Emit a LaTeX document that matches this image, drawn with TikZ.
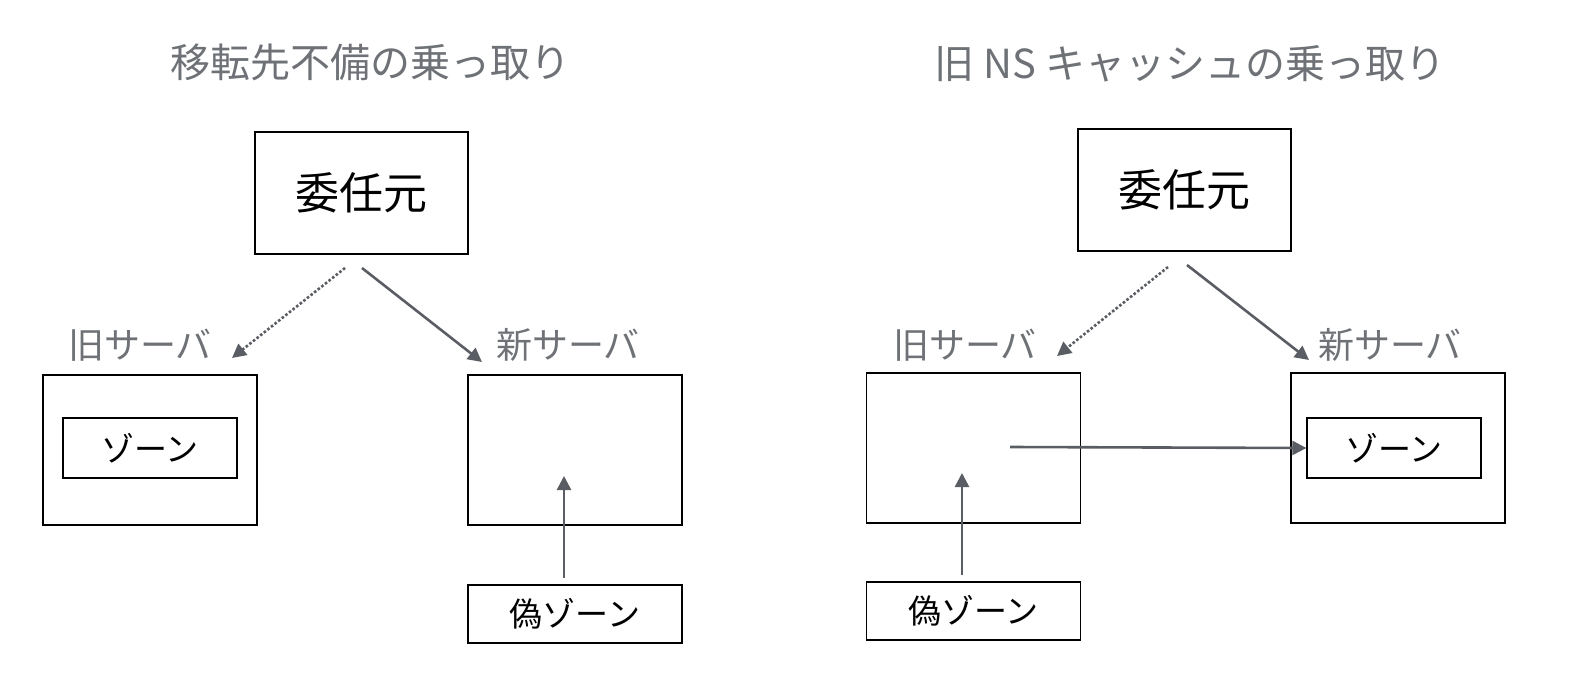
\documentclass[tikz,border=0pt]{standalone}
\usepackage{fontspec}
\setmainfont{Noto Sans CJK JP}
\usetikzlibrary{arrows.meta}
\definecolor{gr}{HTML}{5A5D63}
\definecolor{lg}{HTML}{6E7176}
\tikzset{
 bx/.style={draw=black,line width=1.3pt,minimum width=214pt,minimum height=150pt,inner sep=0},
 top/.style={draw=black,line width=1.3pt,minimum width=213pt,minimum height=122pt,font=\fontsize{44}{50}\selectfont},
 zn/.style={draw=black,line width=1.3pt,minimum width=174pt,minimum height=60pt,font=\fontsize{33}{38}\selectfont},
 fz/.style={draw=black,line width=1.3pt,minimum width=214pt,minimum height=58pt,font=\fontsize{33}{38}\selectfont},
 lbl/.style={text=lg,font=\fontsize{36}{40}\selectfont},
 ttl/.style={text=lg,font=\fontsize{40}{46}\selectfont},
 ar/.style={draw=gr,line width=2.6pt,-{Triangle[length=14pt,width=14pt]}},
 da/.style={ar,dotted},
}
\begin{document}
\begin{tikzpicture}[x=1pt,y=-1pt]
\useasboundingbox (0,0) rectangle (1594,698);
% left
\node[ttl] (t1) at (370,62) {移転先不備の乗っ取り};
\node[top] (d1) at (361.5,193) {委任元};
\node[lbl] (o1l) at (140,345) {旧サーバ};
\node[bx] (o1) at (150,450) {};
\node[zn] (z1) at (150,448) {ゾーン};
\node[lbl] (n1l) at (568,345) {新サーバ};
\node[bx] (n1) at (575,450) {};
\node[fz] (f1) at (575,614) {偽ゾーン};
\coordinate (a1) at (345,268); \coordinate (a1e) at (232,358);
\coordinate (b1) at (362,268); \coordinate (b1e) at (482,362);
\coordinate (c1) at (564,578); \coordinate (c1e) at (564,476);
\draw[da] (a1) -- (a1e);
\draw[ar] (b1) -- (b1e);
\draw[ar] (c1) -- (c1e);
% right
\node[ttl] (t2) at (1190,64) {旧 NS キャッシュの乗っ取り};
\node[top] (d2) at (1184.5,190) {委任元};
\node[lbl] (o2l) at (965,345) {旧サーバ};
\node[bx] (o2) at (973.5,448) {};
\node[lbl] (n2l) at (1390,345) {新サーバ};
\node[bx] (n2) at (1398,448) {};
\node[zn] (z2) at (1394,448) {ゾーン};
\node[fz] (f2) at (973.5,611) {偽ゾーン};
\coordinate (a2) at (1168,267); \coordinate (a2e) at (1057,356);
\coordinate (b2) at (1187,265); \coordinate (b2e) at (1309,360);
\coordinate (c2) at (962,575); \coordinate (c2e) at (962,473);
\coordinate (e2) at (1010,447);
\draw[da] (a2) -- (a2e);
\draw[ar] (b2) -- (b2e);
\draw[ar] (c2) -- (c2e);
\draw[ar] (e2) -- (z2.west);
\end{tikzpicture}
\end{document}
